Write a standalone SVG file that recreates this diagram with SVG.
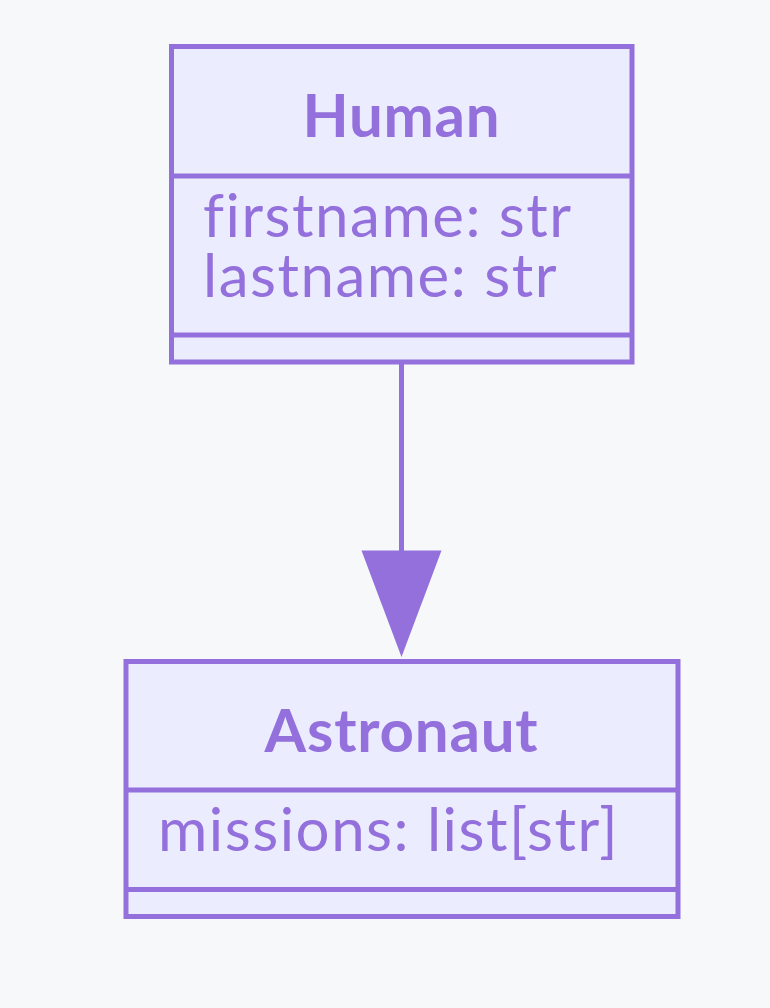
<svg xmlns="http://www.w3.org/2000/svg" width="770" height="1008" viewBox="0 0 770 1008">
<style>
.box{fill:#ECECFF;stroke:#9370DB;stroke-width:5}
.div{stroke:#9370DB;stroke-width:5;fill:none}
.t{fill:#9370DB;font-family:Lato,"Open Sans","DejaVu Sans",sans-serif;font-size:60px}
.m{letter-spacing:1.5px}
.title{font-weight:bold;text-anchor:middle;letter-spacing:0.8px}
.edge{stroke:#9370DB;stroke-width:5;fill:none}
</style>
<rect width="770" height="1008" fill="#f7f8fa"/>
<g id="edges">
<path class="edge" d="M401.5,362 L401.5,551"/>
<path d="M361.5,550.5 L441.5,550.5 L401.5,657 Z" fill="#9370DB"/>
</g>
<g id="Human">
<rect class="box" x="171.5" y="46.5" width="460.5" height="315.5"/>
<line class="div" x1="171.5" y1="176" x2="632" y2="176"/>
<line class="div" x1="171.5" y1="335" x2="632" y2="335"/>
<text class="t title" x="401.5" y="137">Human</text>
<text class="t m"><tspan x="203" y="237">firstname: str</tspan><tspan x="203" y="297">lastname: str</tspan></text>
</g>
<g id="Astronaut">
<rect class="box" x="126" y="661.5" width="552" height="255"/>
<line class="div" x1="126" y1="790" x2="678" y2="790"/>
<line class="div" x1="126" y1="889.5" x2="678" y2="889.5"/>
<text class="t title" x="401.5" y="752">Astronaut</text>
<text class="t m" x="158" y="851">missions: list[str]</text>
</g>
</svg>
